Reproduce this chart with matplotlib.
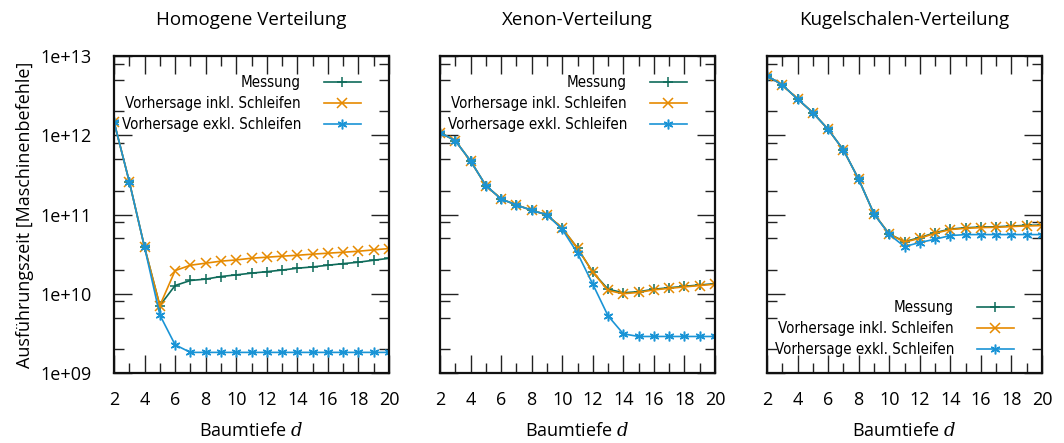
import numpy as np
import matplotlib
matplotlib.use('Agg')
import matplotlib.pyplot as plt
from matplotlib import font_manager as fm
from matplotlib.textpath import TextPath
from matplotlib.ticker import FixedLocator, FuncFormatter

plt.rcParams['font.family'] = ['Open Sans', 'DejaVu Sans']
plt.rcParams['mathtext.fontset'] = 'dejavuserif'

depth = list(range(2, 21))

# Homogene Verteilung
homo_mess = [1.48e12, 2.6e11, 3.87e10, 7.1e9, 1.27e10, 1.47e10, 1.53e10, 1.65e10, 1.73e10, 1.82e10,
             1.9e10, 1.99e10, 2.1e10, 2.18e10, 2.29e10, 2.4e10, 2.5e10, 2.65e10, 2.8e10]
homo_inkl = [1.48e12, 2.6e11, 3.87e10, 7.1e9, 1.96e10, 2.29e10, 2.43e10, 2.58e10, 2.67e10, 2.81e10,
             2.89e10, 2.98e10, 3.06e10, 3.16e10, 3.25e10, 3.34e10, 3.44e10, 3.58e10, 3.72e10]
homo_exkl = [1.48e12, 2.6e11, 3.87e10, 5.4e9, 2.27e9, 1.82e9, 1.82e9, 1.82e9, 1.82e9, 1.82e9,
             1.82e9, 1.82e9, 1.82e9, 1.82e9, 1.82e9, 1.82e9, 1.82e9, 1.82e9, 1.82e9]

# Xenon-Verteilung
xenon_mess = [1.08e12, 8.55e11, 4.74e11, 2.32e11, 1.57e11, 1.32e11, 1.13e11, 9.9e10, 6.7e10, 3.76e10,
              1.87e10, 1.14e10, 1.03e10, 1.06e10, 1.14e10, 1.19e10, 1.24e10, 1.29e10, 1.34e10]
xenon_inkl = [1.08e12, 8.55e11, 4.74e11, 2.32e11, 1.57e11, 1.32e11, 1.13e11, 9.9e10, 6.7e10, 3.76e10,
              1.87e10, 1.1e10, 1.0e10, 1.04e10, 1.12e10, 1.17e10, 1.22e10, 1.27e10, 1.32e10]
xenon_exkl = [1.08e12, 8.55e11, 4.74e11, 2.32e11, 1.57e11, 1.32e11, 1.13e11, 9.9e10, 6.5e10, 3.25e10,
              1.32e10, 5.26e9, 3.12e9, 2.89e9, 2.89e9, 2.89e9, 2.89e9, 2.89e9, 2.89e9]

# Kugelschalen-Verteilung
kugel_mess = [5.65e12, 4.31e12, 2.87e12, 1.93e12, 1.19e12, 6.53e11, 2.79e11, 1.02e11, 5.69e10, 4.55e10,
              5.1e10, 5.9e10, 6.55e10, 6.8e10, 6.95e10, 7.0e10, 7.15e10, 7.3e10, 7.35e10]
kugel_inkl = [5.65e12, 4.31e12, 2.87e12, 1.93e12, 1.19e12, 6.53e11, 2.79e11, 1.02e11, 5.69e10, 4.47e10,
              5.01e10, 5.8e10, 6.46e10, 6.7e10, 6.83e10, 6.9e10, 7.04e10, 7.18e10, 7.25e10]
kugel_exkl = [5.65e12, 4.31e12, 2.87e12, 1.93e12, 1.19e12, 6.53e11, 2.79e11, 1.02e11, 5.6e10, 3.94e10,
              4.43e10, 4.88e10, 5.42e10, 5.58e10, 5.58e10, 5.58e10, 5.58e10, 5.58e10, 5.58e10]

titles = ['Homogene Verteilung', 'Xenon-Verteilung', 'Kugelschalen-Verteilung']
labels = ['Messung', 'Vorhersage inkl. Schleifen', 'Vorhersage exkl. Schleifen']
colors = ['#0e6b5a', '#e68a00', '#1a94d6']
markers = ['+', 'x', (6, 2, 0)]

panels = [(homo_mess, homo_inkl, homo_exkl),
          (xenon_mess, xenon_inkl, xenon_exkl),
          (kugel_mess, kugel_inkl, kugel_exkl)]


def narrow_font():
    # prefer a condensed face for the legend if one is installed
    for f in fm.fontManager.ttflist:
        narrow = f.stretch in ('condensed', 'semi-condensed', 'extra-condensed') \
            or 'Condensed' in f.name or 'Narrow' in f.name
        if narrow and f.style == 'normal' and f.weight in (400, 'normal', 'regular'):
            return fm.FontProperties(fname=f.fname)
    return fm.FontProperties(family='Roboto')


leg_prop = narrow_font()
# size the legend text so the longest entry stays inside the axes
w12 = TextPath((0, 0), labels[2], size=12, prop=leg_prop).get_extents().width * 100 / 72
leg_size = min(13.0, 12 * 178 / w12)
leg_prop.set_size(leg_size)
fs_px = leg_size * 100 / 72

W, H = 1064, 443
fig = plt.figure(figsize=(W / 100, H / 100), dpi=100)
lefts = [114, 440, 767]

minor_vals = [m * 10.0 ** e for e in range(9, 13) for m in (2, 5, 8)]

for i, (series, title) in enumerate(zip(panels, titles)):
    ax = fig.add_axes([lefts[i] / W, 1 - 373 / H, 275 / W, 317 / H])
    for vals, lab, c, mk in zip(series, labels, colors, markers):
        ax.plot(depth, vals, color=c, lw=1.2, marker=mk, ms=7, mew=1.1, label=lab)
    ax.set_yscale('log')
    ax.set_xlim(2, 20)
    ax.set_ylim(1e9, 1e13)
    ax.xaxis.set_major_locator(FixedLocator(range(2, 21, 2)))
    ax.xaxis.set_minor_locator(FixedLocator(range(3, 21, 2)))
    ax.yaxis.set_major_locator(FixedLocator([1e9, 1e10, 1e11, 1e12, 1e13]))
    ax.yaxis.set_minor_locator(FixedLocator(minor_vals))
    ax.yaxis.set_minor_formatter(FuncFormatter(lambda v, p: ''))
    ax.tick_params(which='both', direction='in', top=True, right=True, color='#222222', width=1.0,
                   labelsize=13)
    ax.tick_params(which='major', length=13)
    ax.tick_params(which='minor', length=7)
    ax.tick_params(axis='x', which='major', pad=13)
    ax.tick_params(axis='y', which='major', pad=16)
    for sp in ax.spines.values():
        sp.set_linewidth(1.6)
        sp.set_color('#111111')
    if i == 0:
        ax.yaxis.set_major_formatter(FuncFormatter(lambda v, p: '1e+%02d' % int(round(np.log10(v)))))
        ax.set_ylabel('Ausführungszeit [Maschinenbefehle]', fontsize=13, labelpad=5)
    else:
        ax.set_yticklabels([])
    ax.set_xlabel('Baumtiefe $d$', fontsize=13, labelpad=9)
    ax.set_title(title, fontsize=13.5, pad=22)

    if i < 2:
        loc, anchor = 'upper right', (0.898, 0.94)
    else:
        loc, anchor = 'lower right', (0.898, 0.05)
    ax.legend(loc=loc, bbox_to_anchor=anchor, frameon=False, markerfirst=False,
              borderpad=0, borderaxespad=0, handlelength=37 / fs_px, handletextpad=23 / fs_px,
              labelspacing=max(0.1, (23.5 - 1.17 * fs_px) / fs_px), prop=leg_prop)

fig.savefig('out.png', dpi=100)
